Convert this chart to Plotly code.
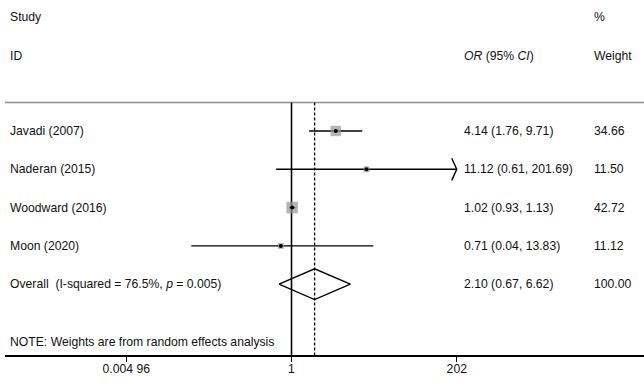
import math
import plotly.graph_objects as go

# ---------------- data ----------------
studies = ["Javadi (2007)", "Naderan (2015)", "Woodward (2016)", "Moon (2020)"]
or_vals = [4.14, 11.12, 1.02, 0.71]
ci_low = [1.76, 0.61, 0.93, 0.04]
ci_high = [9.71, 201.69, 1.13, 13.83]
weights = [34.66, 11.50, 42.72, 11.12]
overall_label = "Overall  (I-squared = 76.5%, <i>p</i> = 0.005)"
overall_or = 2.10
overall_low = 0.67
overall_high = 6.62
overall_weight = 100.00
tick_vals = [0.00496, 1, 202]
tick_text = ["0.004 96", "1", "202"]
note_text = "NOTE: Weights are from random effects analysis"

# ---------------- geometry helpers ----------------
W, H = 644, 384
ML, MR, MT, MB = 5, 0, 0, 29
x_one_px = 291.5      # pixel of OR = 1
ppd = 71.7            # pixels per decade
row0_px = 131.0       # pixel of first study row
row_h = 38.3          # pixels per row

def px2log(px):
    return (px - x_one_px) / ppd

def py2row(py):
    return (py - row0_px) / row_h

def px2paper(px):
    return (px - ML) / (W - ML - MR)

xrange_log = [px2log(ML), px2log(W - MR)]
yrange = [py2row(H - MB), py2row(MT)]

font_family = "Liberation Sans, Arial, Helvetica, sans-serif"
FS = 12.2

fig = go.Figure()

xmax = max(tick_vals)
rows = list(range(len(studies)))

# CI lines
cx, cy = [], []
for r, lo, hi in zip(rows, ci_low, ci_high):
    cx += [lo, min(hi, xmax), None]
    cy += [r, r, None]
fig.add_trace(go.Scatter(x=cx, y=cy, mode="lines",
                         line=dict(color="black", width=1.4),
                         hoverinfo="skip", showlegend=False))

# arrows for CIs reaching the axis limit
ax_, ay_ = [], []
back = 10 ** (-5 / ppd)
for r, hi in zip(rows, ci_high):
    if hi >= xmax * 0.99:
        tip = min(hi, xmax)
        ax_ += [tip * back, tip, tip * back, None]
        ay_ += [r - 0.29, r, r + 0.29, None]
fig.add_trace(go.Scatter(x=ax_, y=ay_, mode="lines",
                         line=dict(color="black", width=1.4),
                         hoverinfo="skip", showlegend=False))

# weight squares
max_w = max(weights)
sizes = [11.5 * math.sqrt(w / max_w) for w in weights]
fig.add_trace(go.Scatter(x=or_vals, y=rows, mode="markers",
                         marker=dict(symbol="square", size=sizes,
                                     color="#949494", line=dict(width=0)),
                         hoverinfo="skip", showlegend=False))
# point estimates
fig.add_trace(go.Scatter(x=or_vals, y=rows, mode="markers",
                         marker=dict(symbol="circle", size=4, color="black"),
                         hoverinfo="skip", showlegend=False))

# overall diamond
orow = len(studies)
dh = 0.4
fig.add_trace(go.Scatter(
    x=[overall_low, overall_or, overall_high, overall_or, overall_low],
    y=[orow, orow - dh, orow, orow + dh, orow],
    mode="lines", line=dict(color="black", width=1.4),
    hoverinfo="skip", showlegend=False))

# reference lines
top_line_row = py2row(102.5)
shapes = [
    dict(type="line", xref="x", yref="y", x0=1, x1=1,
         y0=top_line_row, y1=yrange[0], layer="below",
         line=dict(color="black", width=1.6)),
    dict(type="line", xref="x", yref="y", x0=overall_or, x1=overall_or,
         y0=top_line_row, y1=yrange[0], layer="below",
         line=dict(color="black", width=1.3, dash="3px,2px")),
    dict(type="line", xref="paper", yref="y", x0=0, x1=1,
         y0=top_line_row, y1=top_line_row, layer="below",
         line=dict(color="#8f8f8f", width=1.5)),
]

# text
ann = []
def txt(xpx, row, s):
    ann.append(dict(x=px2paper(xpx), xref="paper", y=row, yref="y",
                    text=s, showarrow=False, xanchor="left", yanchor="middle",
                    font=dict(family=font_family, size=FS, color="#111111")))

left_px, ci_px, w_px = 8, 462, 592
txt(left_px, py2row(17), "Study")
txt(left_px, py2row(56), "ID")
txt(w_px, py2row(17), "%")
txt(ci_px, py2row(56), "<i>OR</i> (95% <i>CI</i>)")
txt(w_px, py2row(56), "Weight")
for r, s, o, lo, hi, w in zip(rows, studies, or_vals, ci_low, ci_high, weights):
    txt(left_px, r, s)
    txt(ci_px, r, f"{o:.2f} ({lo:.2f}, {hi:.2f})")
    txt(w_px, r, f"{w:.2f}")
txt(left_px, orow, overall_label)
txt(ci_px, orow, f"{overall_or:.2f} ({overall_low:.2f}, {overall_high:.2f})")
txt(w_px, orow, f"{overall_weight:.2f}")
txt(left_px, py2row(341.5), note_text)

fig.update_layout(
    width=W, height=H,
    margin=dict(l=ML, r=MR, t=MT, b=MB, pad=0),
    paper_bgcolor="white", plot_bgcolor="white",
    shapes=shapes, annotations=ann, showlegend=False,
    font=dict(family=font_family, size=FS, color="black"),
    xaxis=dict(type="log", range=xrange_log, tickmode="array",
               tickvals=tick_vals, ticktext=tick_text,
               ticks="outside", ticklen=5, tickwidth=1.3, tickcolor="black",
               ticklabelstandoff=-3,
               showline=True, linecolor="black", linewidth=1.6,
               showgrid=False, zeroline=False,
               tickfont=dict(family=font_family, size=FS, color="#111111")),
    yaxis=dict(range=yrange, showgrid=False, zeroline=False,
               showticklabels=False, ticks="", showline=False),
)

fig.write_html("out.html")
